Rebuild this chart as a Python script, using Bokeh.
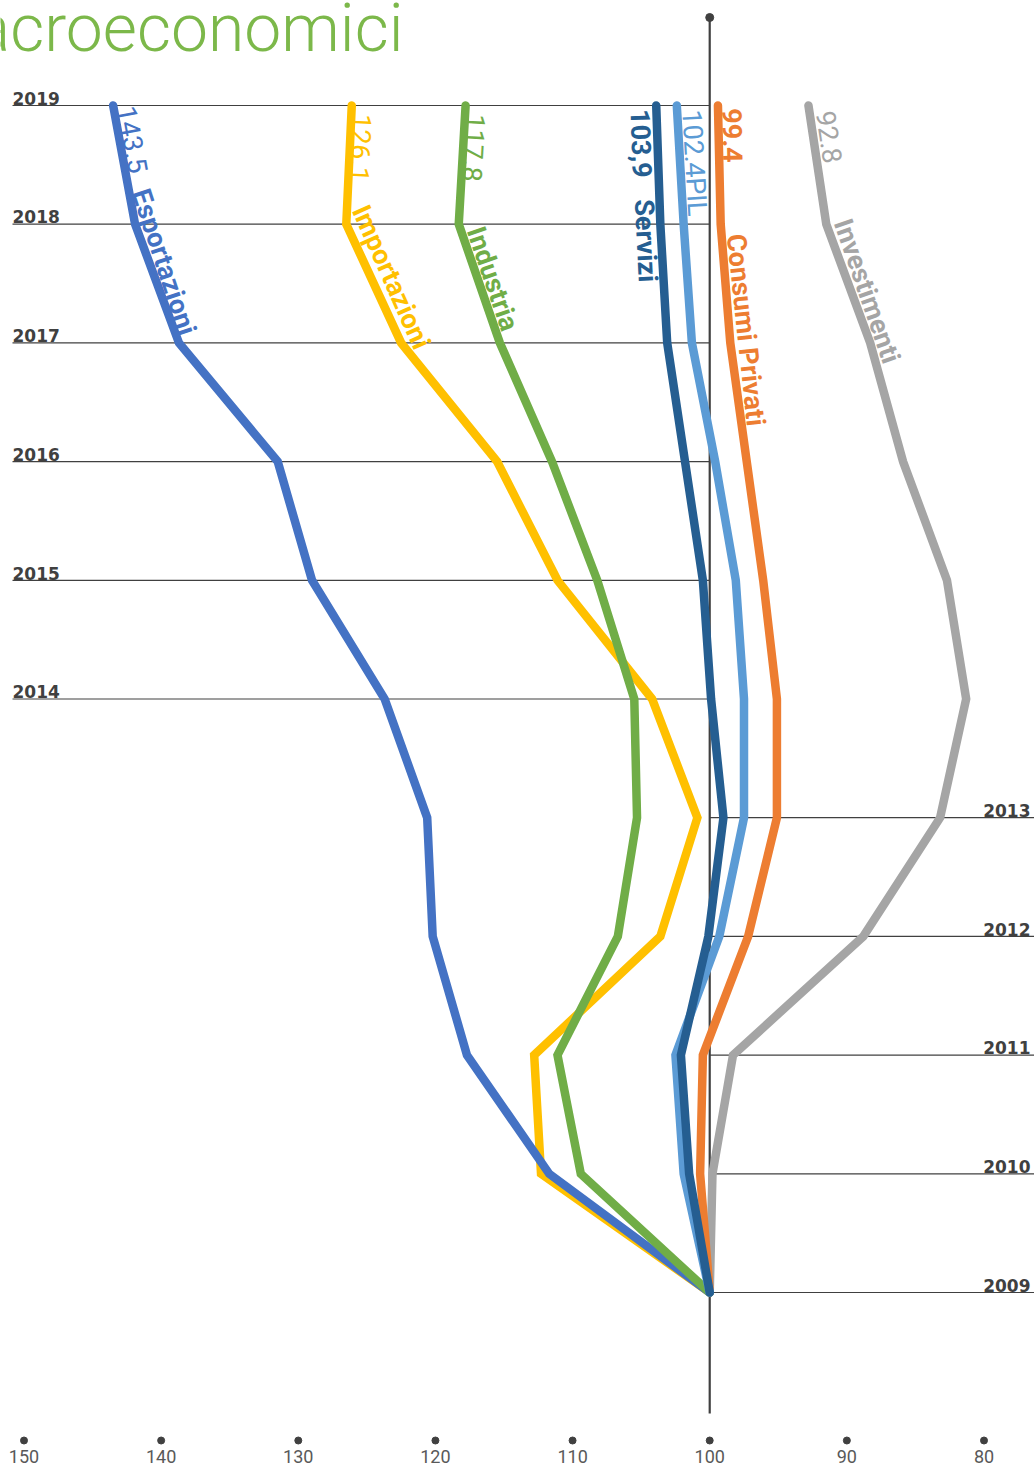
import math
import numpy as np
from bokeh.plotting import figure
from bokeh.models import Range1d, ColumnDataSource
from bokeh.core.properties import value
from bokeh.embed import file_html
from bokeh.resources import INLINE

# ---------------- data ----------------
YEARS = [2009, 2010, 2011, 2012, 2013, 2014, 2015, 2016, 2017, 2018, 2019]
ESPORTAZIONI = [100, 111.7, 117.7, 120.2, 120.6, 123.7, 129.0, 131.5, 138.7, 141.9, 143.5]
IMPORTAZIONI = [100, 112.3, 112.8, 103.6, 100.9, 104.2, 111.1, 115.5, 122.5, 126.5, 126.1]
INDUSTRIA = [100, 109.4, 111.1, 106.7, 105.3, 105.5, 108.2, 111.5, 115.3, 118.3, 117.8]
SERVIZI = [100, 101.5, 102.1, 100.1, 99.0, 99.9, 100.5, 101.8, 103.1, 103.6, 103.9]
PIL = [100, 101.9, 102.5, 99.3, 97.5, 97.5, 98.1, 99.6, 101.3, 101.9, 102.4]
CONSUMI_PRIVATI = [100, 100.7, 100.5, 97.2, 95.1, 95.1, 96.1, 97.3, 98.5, 99.2, 99.4]
INVESTIMENTI = [100, 99.8, 98.3, 88.8, 83.2, 81.3, 82.7, 85.9, 88.3, 91.5, 92.8]

SERIES_NAMES = ["Investimenti", "Consumi Privati", "Importazioni", "Esportazioni",
                "Industria", "PIL", "Servizi"]
VALUE_TEXTS = ["92.8", "99.4", "126.1", "143.5", "117.8", "102.4PIL", "103,9"]
NAME_TEXTS = ["Investimenti", "Consumi Privati", "Importazioni", "Esportazioni",
              "Industria", "", "Servizi"]
X_TICKS = [150, 140, 130, 120, 110, 100, 90, 80]
X_TICK_LABELS = ["150", "140", "130", "120", "110", "100", "90", "80"]
TITLE = "macroeconomici"
BASE = 100
SPLIT_YEAR = 2014

SERIES_VALUES = [INVESTIMENTI, CONSUMI_PRIVATI, IMPORTAZIONI, ESPORTAZIONI,
                 INDUSTRIA, PIL, SERVIZI]

# ---------------- style / layout ----------------
W, H = 1034, 1468
X0_PX, X0_VAL = 23.5, 150.0
PX_PER_UNIT = 960.0 / 70.0
Y0_PX = 105.0
PX_PER_YEAR = 118.7
TOP_YEAR = YEARS[-1]
MID = 0.34          # anchor shift (em) between drawn anchor and baseline

COLORS = {
    "Investimenti": "#A5A5A5",
    "Consumi Privati": "#ED7D31",
    "Importazioni": "#FFC000",
    "Esportazioni": "#4472C4",
    "Industria": "#70AD47",
    "PIL": "#5B9BD5",
    "Servizi": "#255E91",
}
LABEL_SIZE = 27
# (start px below top line, end px below top line, baseline offset px from line, bold)
VALUE_LAYOUT = {
    "Investimenti": (8, 62, 7, False),
    "Consumi Privati": (3, 57, 5, True),
    "Importazioni": (8, 77, 2, False),
    "Esportazioni": (3, 70, 4, False),
    "Industria": (8, 77, 2, False),
    "PIL": (5, 110, 5, False),
    "Servizi": (3, 75, -25, True),
}
NAME_LAYOUT = {
    "Investimenti": (120, 267, 7, True),
    "Consumi Privati": (130, 320, 5, True),
    "Importazioni": (107, 248, 5, True),
    "Esportazioni": (88, 235, 2, True),
    "Industria": (127, 228, 5, True),
    "Servizi": (93, 173, -25, True),
}
DARK = "#404040"


def sx(v):
    return X0_PX + (X0_VAL - v) * PX_PER_UNIT


def sy(yr):
    return Y0_PX + (TOP_YEAR - yr) * PX_PER_YEAR


def vx(px):
    return X0_VAL - (px - X0_PX) / PX_PER_UNIT


def vy(py):
    return TOP_YEAR - (py - Y0_PX) / PX_PER_YEAR


def place(vals, s, e, base_off, size):
    ys = sy(TOP_YEAR) + s
    ye = sy(TOP_YEAR) + e
    xs = sx(np.interp(vy(ys), YEARS, vals))
    xe = sx(np.interp(vy(ye), YEARS, vals))
    dx, dy = xe - xs, ye - ys
    L = math.hypot(dx, dy)
    dx, dy = dx / L, dy / L
    upx, upy = dy, -dx
    perp = base_off + MID * size
    ax, ay = xs + perp * upx, ys + perp * upy
    return vx(ax), vy(ay), math.atan2(-dy, dx)


p = figure(width=W, height=H,
           x_range=Range1d(vx(0), vx(W)), y_range=Range1d(vy(H), vy(0)),
           output_backend="svg", toolbar_location=None,
           x_axis_location=None, y_axis_location=None,
           min_border=0, outline_line_color=None,
           background_fill_color="white", border_fill_color="white")
p.grid.visible = False

# year grid lines
left_years = [y for y in YEARS if y >= SPLIT_YEAR]
right_years = [y for y in YEARS if y < SPLIT_YEAR]
p.segment(x0=[vx(12)] * len(left_years), y0=left_years,
          x1=[BASE] * len(left_years), y1=left_years,
          line_color=DARK, line_width=1.2)
p.segment(x0=[BASE] * len(right_years), y0=right_years,
          x1=[vx(W)] * len(right_years), y1=right_years,
          line_color=DARK, line_width=1.2)

# vertical base line with top dot
p.segment(x0=[BASE], y0=[vy(17)], x1=[BASE], y1=[vy(1413)], line_color=DARK, line_width=2.2)
p.scatter(x=[BASE], y=[vy(17)], size=8, color=DARK)

# year labels
YL_SIZE = 17
yl_font = value("DejaVu Sans")
p.text(x=[vx(12)] * len(left_years),
       y=[vy(sy(y) - 1.5 - MID * YL_SIZE) for y in left_years],
       text=[str(y) for y in left_years], text_align="left", text_baseline="alphabetic",
       text_font=yl_font, text_font_style="bold", text_font_size=f"{YL_SIZE}px",
       text_color=DARK)
p.text(x=[vx(1030)] * len(right_years),
       y=[vy(sy(y) - 1.5 - MID * YL_SIZE) for y in right_years],
       text=[str(y) for y in right_years], text_align="right", text_baseline="alphabetic",
       text_font=yl_font, text_font_style="bold", text_font_size=f"{YL_SIZE}px",
       text_color=DARK)

# series lines
for name, vals in zip(SERIES_NAMES, SERIES_VALUES):
    p.line(x=vals, y=YEARS, line_color=COLORS[name], line_width=8.5,
           line_cap="round", line_join="miter")

# series labels
rows = {"normal": dict(x=[], y=[], text=[], angle=[], color=[]),
        "bold": dict(x=[], y=[], text=[], angle=[], color=[])}
for name, vals, vt, nt in zip(SERIES_NAMES, SERIES_VALUES, VALUE_TEXTS, NAME_TEXTS):
    items = [(vt, VALUE_LAYOUT[name])]
    if nt:
        items.append((nt, NAME_LAYOUT[name]))
    for txt, (s, e, off, bold) in items:
        x, y, a = place(vals, s, e, off, LABEL_SIZE)
        r = rows["bold" if bold else "normal"]
        r["x"].append(x)
        r["y"].append(y)
        r["text"].append(txt)
        r["angle"].append(a)
        r["color"].append(COLORS[name])
for style, r in rows.items():
    p.text(x="x", y="y", text="text", angle="angle", text_color="color",
           source=ColumnDataSource(r), text_font=value("Roboto"),
           text_font_style=style, text_font_size=f"{LABEL_SIZE}px",
           text_align="left", text_baseline="alphabetic")

# x ticks (dots + labels)
XT_SIZE = 18
p.scatter(x=X_TICKS, y=[vy(1440)] * len(X_TICKS), size=7, color=DARK)
p.text(x=X_TICKS, y=[vy(1462 - MID * XT_SIZE)] * len(X_TICKS), text=X_TICK_LABELS,
       text_align="center", text_baseline="alphabetic",
       text_font=value("Liberation Sans Narrow, Roboto"), text_font_size=f"{XT_SIZE}px",
       text_color="#595959")

# title (cut at the left edge)
TT_SIZE = 66
p.text(x=[vx(403)], y=[vy(50 - MID * TT_SIZE)], text=[TITLE], text_align="right",
       text_baseline="alphabetic", text_font=value("Roboto Light"),
       text_font_size=f"{TT_SIZE}px", text_color="#7CB84A")

open("out.html", "w").write(file_html(p, INLINE))
